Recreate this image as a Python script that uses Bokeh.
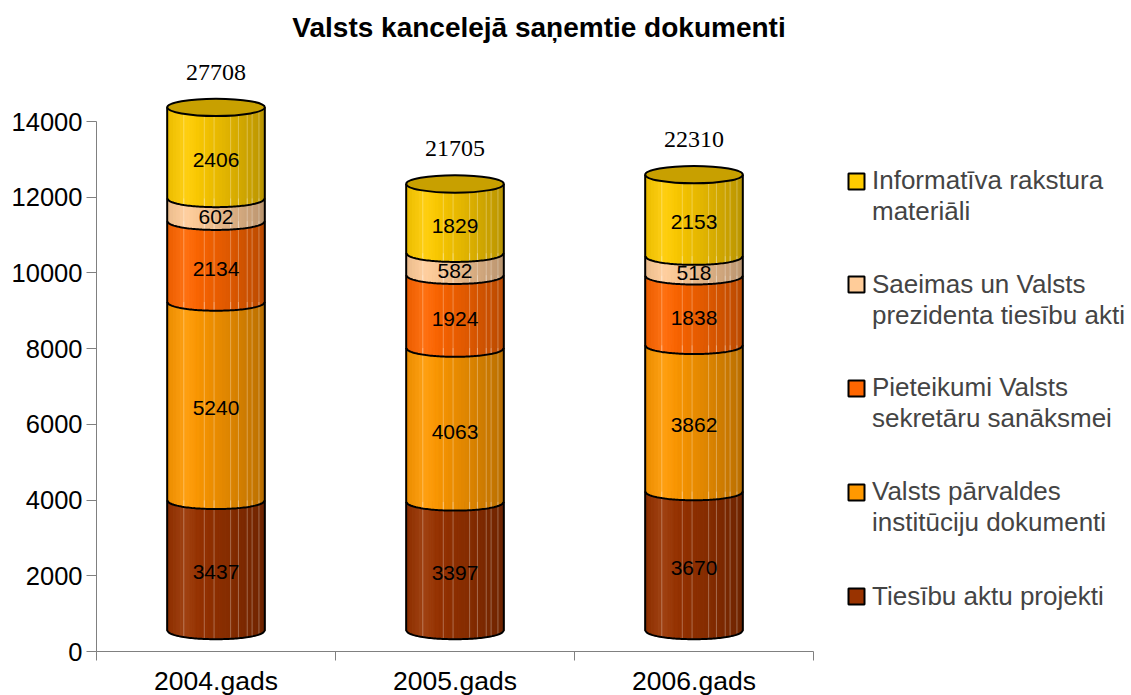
import numpy as np
from bokeh.plotting import figure
from bokeh.models import Range1d, FixedTicker, Legend, LegendItem, Label
from bokeh.core.properties import value
from bokeh.embed import file_html
from bokeh.resources import INLINE

# ---------------- data ----------------
years = ["2004.gads", "2005.gads", "2006.gads"]
series_names = [
    "Tiesību aktu projekti",
    "Valsts pārvaldes\ninstitūciju dokumenti",
    "Pieteikumi Valsts\nsekretāru sanāksmei",
    "Saeimas un Valsts\nprezidenta tiesību akti",
    "Informatīva rakstura\nmateriāli",
]
tiesibu_akti = [3437, 3397, 3670]
parvaldes_dok = [5240, 4063, 3862]
pieteikumi = [2134, 1924, 1838]
saeimas_akti = [602, 582, 518]
informativi = [2406, 1829, 2153]
totals = [27708, 21705, 22310]
series_colors = ["#993300", "#FF9900", "#FF6600", "#FFCC99", "#FFCC00"]
top_face_color = "#C8A000"
y_ticks = [0, 2000, 4000, 6000, 8000, 10000, 12000, 14000]
title_text = "Valsts kancelejā saņemtie dokumenti"

# ---------------- layout (pixels) ----------------
W, H = 1131, 695
X0_PX = 96            # pixel of x = 0 from the left
Y0_PX = 44            # pixel of y = 0 from the bottom
CAT_PX = 239          # pixels per category
UNIT_PX = 530 / 14000 # pixels per value unit
LIFT = 21 / UNIT_PX   # 3-D lift of cylinder base
HALF_W = 48.8 / CAT_PX
ELL = 8.7 / UNIT_PX   # half height of the ellipses
FONT = "Liberation Sans"
LEG_X = 846
LEG_FIRST = 182       # first legend line centre, px from top
LEG_PITCH = 103.7
LEG_LINE = 30

p = figure(width=W, height=H, output_backend="svg", toolbar_location=None,
           x_range=Range1d(-X0_PX / CAT_PX, (W - X0_PX) / CAT_PX),
           y_range=Range1d(-Y0_PX / UNIT_PX, (H - Y0_PX) / UNIT_PX),
           min_border=0, title=None)
p.outline_line_color = None
p.grid.visible = False
p.background_fill_color = "white"


def shade(hexc, t):
    r, g, b = int(hexc[1:3], 16), int(hexc[3:5], 16), int(hexc[5:7], 16)
    if t < 0.2:
        f = 0.92 + 0.08 * (t / 0.2)
    else:
        f = 1.0 - 0.27 * ((t - 0.2) / 0.8) ** 1.2
    lt = 0.07 * np.exp(-((t - 0.18) / 0.1) ** 2)
    c = [min(255, int(v * f * (1 - lt) + 255 * lt)) for v in (r, g, b)]
    return "#%02x%02x%02x" % tuple(c)


stack = [tiesibu_akti, parvaldes_dok, pieteikumi, saeimas_akti, informativi]
N = 30
edges = np.linspace(0, 1, N + 1)
stripe_t = [0.17, 0.38, 0.48, 0.65, 0.73, 0.82, 0.87, 0.94]

fx, fy, fc = [], [], []
ox, oy = [], []
sx, sy = [], []
lab_x, lab_y, lab_t = [], [], []
top_x, top_y = [], []

for j in range(len(years)):
    xc = j + 0.5
    xl = xc - HALF_W
    cum = LIFT
    for k, ser in enumerate(stack):
        v = ser[j]
        bot, top = cum, cum + v
        for i in range(N):
            xa = xl + edges[i] * 2 * HALF_W
            xb = xl + edges[i + 1] * 2 * HALF_W
            xs = np.linspace(xa, xb, 4)
            arc = bot - ELL * np.sqrt(np.clip(1 - ((xs - xc) / HALF_W) ** 2, 0, 1))
            fx.append(list(xs) + [xb, xa])
            fy.append(list(arc) + [top, top])
            fc.append(shade(series_colors[k], (edges[i] + edges[i + 1]) / 2))
        for t in stripe_t:
            x_s = xl + t * 2 * HALF_W
            y_a = bot - ELL * np.sqrt(max(0.0, 1 - ((x_s - xc) / HALF_W) ** 2))
            sx.append([x_s, x_s])
            sy.append([y_a, top])
        xs = np.linspace(xl, xl + 2 * HALF_W, 60)
        arc = bot - ELL * np.sqrt(np.clip(1 - ((xs - xc) / HALF_W) ** 2, 0, 1))
        ox.append([xl] + list(xs) + [xl + 2 * HALF_W])
        oy.append([top] + list(arc) + [top])
        lab_x.append(xc)
        lab_y.append((bot + top) / 2)
        lab_t.append(str(v))
        cum = top
    top_x.append(xc)
    top_y.append(cum)

p.patches(fx, fy, fill_color=fc, line_color=fc, line_width=1)
p.multi_line(sx, sy, line_color="white", line_alpha=0.3, line_width=1)
p.multi_line(ox, oy, line_color="black", line_width=2)
p.ellipse(x=top_x, y=top_y, width=2 * HALF_W, height=2 * ELL,
          fill_color=top_face_color, line_color="black", line_width=2)

p.text(x=lab_x, y=lab_y, text=lab_t, text_align="center", text_baseline="middle",
       y_offset=7, text_font=value(FONT), text_font_size="21px", text_color="black")
p.text(x=top_x, y=top_y, text=[str(t) for t in totals], text_align="center",
       text_baseline="middle", y_offset=-35, text_font=value("Liberation Serif"),
       text_font_size="24px", text_color="black")

# ---------------- axes ----------------
yax = p.yaxis[0]
yax.fixed_location = 0
yax.bounds = (0, 14000)
yax.ticker = FixedTicker(ticks=y_ticks, minor_ticks=[])
yax.major_tick_out = 10
yax.major_tick_in = 0
yax.minor_tick_out = 0
yax.minor_tick_in = 0
yax.major_label_standoff = 4
yax.major_label_text_font = FONT
yax.major_label_text_font_size = "25.5px"
yax.major_label_text_color = "black"
yax.axis_line_color = "#808080"
yax.major_tick_line_color = "#808080"

xax = p.xaxis[0]
xax.fixed_location = 0
xax.bounds = (0, len(years))
centers = [j + 0.5 for j in range(len(years))]
xax.ticker = FixedTicker(ticks=centers, minor_ticks=list(range(len(years) + 1)))
xax.major_label_overrides = {c: y for c, y in zip(centers, years)}
xax.major_tick_out = 0
xax.major_tick_in = 0
xax.major_tick_line_color = None
xax.minor_tick_out = 9
xax.minor_tick_in = 0
xax.minor_tick_line_color = "#808080"
xax.axis_line_color = "#808080"
xax.major_label_standoff = 5
xax.major_label_text_font = FONT
xax.major_label_text_font_size = "26.5px"
xax.major_label_text_color = "black"

# ---------------- legend (one per series, one item per text line) ----------------
blank = p.quad(left=[np.nan], right=[np.nan], top=[np.nan], bottom=[np.nan],
               fill_alpha=0, line_alpha=0)
order = list(range(len(series_names)))[::-1]   # top entry first
for pos, k in enumerate(order):
    r = p.quad(left=[np.nan], right=[np.nan], top=[np.nan], bottom=[np.nan],
               fill_color=series_colors[k], line_color="black", line_width=2)
    lines = series_names[k].split("\n")
    its = [LegendItem(label=lines[0], renderers=[r])]
    its += [LegendItem(label=ln, renderers=[blank]) for ln in lines[1:]]
    top_px = LEG_FIRST + pos * LEG_PITCH - LEG_LINE / 2
    bottom_px = top_px + LEG_LINE * len(lines)
    lg = Legend(items=its, location=(LEG_X, H - bottom_px), spacing=0, padding=0, margin=0,
                glyph_width=20, glyph_height=20, label_height=LEG_LINE, label_standoff=6,
                label_text_font=FONT, label_text_font_size="26px",
                label_text_line_height=1.15, label_text_baseline="middle",
                border_line_color=None, background_fill_alpha=0)
    p.add_layout(lg)

# ---------------- title ----------------
p.add_layout(Label(x=538.5, y=668, x_units="screen", y_units="screen", text=title_text,
                   text_align="center", text_baseline="middle", text_font=FONT,
                   text_font_size="28px", text_font_style="bold", text_color="black"))

open("out.html", "w").write(file_html(p, INLINE))
